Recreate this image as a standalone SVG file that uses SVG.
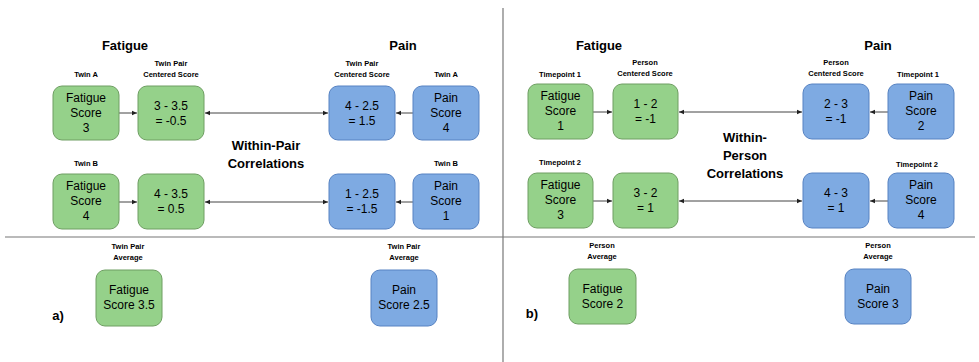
<svg xmlns="http://www.w3.org/2000/svg" width="979" height="362" viewBox="0 0 979 362">
<defs>
<style>
text{font-family:"Liberation Sans",Arial,sans-serif;text-anchor:middle;fill:#000}
.title{font-size:13px;font-weight:bold}
.corr{font-size:13px;font-weight:bold}
.lbl{font-size:7.5px;font-weight:bold}
.box{font-size:12px}
.g{fill:#95d18a;stroke:#6e9e62;stroke-width:1}
.b{fill:#7eaae2;stroke:#5682c2;stroke-width:1}
.ln{stroke:#444;stroke-width:1;fill:none}
.div{stroke:#777;stroke-width:1.2;fill:none}
</style>
<marker id="ah" markerWidth="6" markerHeight="6" refX="5" refY="3" orient="auto-start-reverse" markerUnits="userSpaceOnUse">
<path d="M0,0.8 L5,3 L0,5.2 Z" fill="#222"/>
</marker>
</defs>
<rect width="979" height="362" fill="#fff"/>
<g id="dividers">
<line class="div" x1="503" y1="8" x2="503" y2="362"/>
<line class="div" x1="5" y1="237" x2="975" y2="237"/>
</g>
<g id="titles">
<text class="title" x="125" y="50">Fatigue</text>
<text class="title" x="403" y="50">Pain</text>
<text class="title" x="599" y="50">Fatigue</text>
<text class="title" x="878" y="50">Pain</text>
<text class="corr" x="266" y="150">Within-Pair</text>
<text class="corr" x="266" y="168">Correlations</text>
<text class="corr" x="745" y="142">Within-</text>
<text class="corr" x="745" y="160">Person</text>
<text class="corr" x="745" y="178">Correlations</text>
<text class="corr" x="58" y="320">a)</text>
<text class="corr" x="532" y="318">b)</text>
</g>
<g id="labels">
<text class="lbl" x="86" y="77">Twin A</text>
<text class="lbl" x="171" y="66">Twin Pair</text>
<text class="lbl" x="171" y="77">Centered Score</text>
<text class="lbl" x="362" y="66">Twin Pair</text>
<text class="lbl" x="362" y="77">Centered Score</text>
<text class="lbl" x="446" y="77">Twin A</text>
<text class="lbl" x="86" y="166">Twin B</text>
<text class="lbl" x="446" y="166">Twin B</text>
<text class="lbl" x="128" y="249">Twin Pair</text>
<text class="lbl" x="128" y="260">Average</text>
<text class="lbl" x="404" y="249">Twin Pair</text>
<text class="lbl" x="404" y="260">Average</text>
<text class="lbl" x="560" y="77">Timepoint 1</text>
<text class="lbl" x="645" y="65">Person</text>
<text class="lbl" x="645" y="76">Centered Score</text>
<text class="lbl" x="836" y="65">Person</text>
<text class="lbl" x="836" y="76">Centered Score</text>
<text class="lbl" x="918" y="77">Timepoint 1</text>
<text class="lbl" x="560" y="165">Timepoint 2</text>
<text class="lbl" x="917" y="167">Timepoint 2</text>
<text class="lbl" x="602" y="248">Person</text>
<text class="lbl" x="602" y="259">Average</text>
<text class="lbl" x="878" y="248">Person</text>
<text class="lbl" x="878" y="259">Average</text>
</g>
<g id="connectors">
<line class="ln" x1="119" y1="113" x2="137" y2="113" marker-end="url(#ah)"/>
<line class="ln" x1="205" y1="113" x2="328" y2="113" marker-start="url(#ah)" marker-end="url(#ah)"/>
<line class="ln" x1="413" y1="113" x2="396" y2="113" marker-end="url(#ah)"/>
<line class="ln" x1="119" y1="202" x2="137" y2="202" marker-end="url(#ah)"/>
<line class="ln" x1="205" y1="202" x2="328" y2="202" marker-start="url(#ah)" marker-end="url(#ah)"/>
<line class="ln" x1="413" y1="202" x2="396" y2="202" marker-end="url(#ah)"/>
<line class="ln" x1="593" y1="112" x2="612" y2="112" marker-end="url(#ah)"/>
<line class="ln" x1="679" y1="112" x2="802" y2="112" marker-start="url(#ah)" marker-end="url(#ah)"/>
<line class="ln" x1="888" y1="112" x2="870" y2="112" marker-end="url(#ah)"/>
<line class="ln" x1="593" y1="201" x2="612" y2="201" marker-end="url(#ah)"/>
<line class="ln" x1="679" y1="201" x2="802" y2="201" marker-start="url(#ah)" marker-end="url(#ah)"/>
<line class="ln" x1="888" y1="201" x2="870" y2="201" marker-end="url(#ah)"/>
</g>
<g id="a-fatigue-twinA"><rect class="g" x="53" y="86" width="66" height="54" rx="9"/><text class="box" x="86" y="102">Fatigue</text><text class="box" x="86" y="117">Score</text><text class="box" x="86" y="132">3</text></g>
<g id="a-fatigue-centA"><rect class="g" x="138" y="86" width="66" height="54" rx="9"/><text class="box" x="171" y="110">3 - 3.5</text><text class="box" x="171" y="125">= -0.5</text></g>
<g id="a-pain-centA"><rect class="b" x="329" y="86" width="66" height="54" rx="9"/><text class="box" x="362" y="110">4 - 2.5</text><text class="box" x="362" y="125">= 1.5</text></g>
<g id="a-pain-twinA"><rect class="b" x="413" y="86" width="66" height="54" rx="9"/><text class="box" x="446" y="102">Pain</text><text class="box" x="446" y="117">Score</text><text class="box" x="446" y="132">4</text></g>
<g id="a-fatigue-twinB"><rect class="g" x="53" y="174" width="66" height="55" rx="9"/><text class="box" x="86" y="190">Fatigue</text><text class="box" x="86" y="205">Score</text><text class="box" x="86" y="220">4</text></g>
<g id="a-fatigue-centB"><rect class="g" x="138" y="174" width="66" height="55" rx="9"/><text class="box" x="171" y="198">4 - 3.5</text><text class="box" x="171" y="213">= 0.5</text></g>
<g id="a-pain-centB"><rect class="b" x="329" y="174" width="66" height="55" rx="9"/><text class="box" x="362" y="198">1 - 2.5</text><text class="box" x="362" y="213">= -1.5</text></g>
<g id="a-pain-twinB"><rect class="b" x="413" y="174" width="66" height="55" rx="9"/><text class="box" x="446" y="190">Pain</text><text class="box" x="446" y="205">Score</text><text class="box" x="446" y="220">1</text></g>
<g id="a-fatigue-avg"><rect class="g" x="96" y="270" width="66" height="56" rx="9"/><text class="box" x="129" y="294">Fatigue</text><text class="box" x="129" y="309">Score 3.5</text></g>
<g id="a-pain-avg"><rect class="b" x="371" y="270" width="66" height="56" rx="9"/><text class="box" x="404" y="294">Pain</text><text class="box" x="404" y="309">Score 2.5</text></g>
<g id="b-fatigue-t1"><rect class="g" x="528" y="84" width="65" height="55" rx="9"/><text class="box" x="560.5" y="100">Fatigue</text><text class="box" x="560.5" y="115">Score</text><text class="box" x="560.5" y="130">1</text></g>
<g id="b-fatigue-cent1"><rect class="g" x="613" y="84" width="65" height="55" rx="9"/><text class="box" x="645.5" y="108">1 - 2</text><text class="box" x="645.5" y="123">= -1</text></g>
<g id="b-pain-cent1"><rect class="b" x="803" y="84" width="66" height="55" rx="9"/><text class="box" x="836" y="108">2 - 3</text><text class="box" x="836" y="123">= -1</text></g>
<g id="b-pain-t1"><rect class="b" x="888" y="84" width="66" height="55" rx="9"/><text class="box" x="921" y="100">Pain</text><text class="box" x="921" y="115">Score</text><text class="box" x="921" y="130">2</text></g>
<g id="b-fatigue-t2"><rect class="g" x="528" y="173" width="65" height="55" rx="9"/><text class="box" x="560.5" y="189">Fatigue</text><text class="box" x="560.5" y="204">Score</text><text class="box" x="560.5" y="219">3</text></g>
<g id="b-fatigue-cent2"><rect class="g" x="613" y="173" width="65" height="55" rx="9"/><text class="box" x="645.5" y="197">3 - 2</text><text class="box" x="645.5" y="212">= 1</text></g>
<g id="b-pain-cent2"><rect class="b" x="803" y="173" width="66" height="55" rx="9"/><text class="box" x="836" y="197">4 - 3</text><text class="box" x="836" y="212">= 1</text></g>
<g id="b-pain-t2"><rect class="b" x="888" y="173" width="66" height="55" rx="9"/><text class="box" x="921" y="189">Pain</text><text class="box" x="921" y="204">Score</text><text class="box" x="921" y="219">4</text></g>
<g id="b-fatigue-avg"><rect class="g" x="569" y="269" width="67" height="55" rx="9"/><text class="box" x="602.5" y="293">Fatigue</text><text class="box" x="602.5" y="308">Score 2</text></g>
<g id="b-pain-avg"><rect class="b" x="845" y="269" width="66" height="55" rx="9"/><text class="box" x="878" y="293">Pain</text><text class="box" x="878" y="308">Score 3</text></g>
</svg>
